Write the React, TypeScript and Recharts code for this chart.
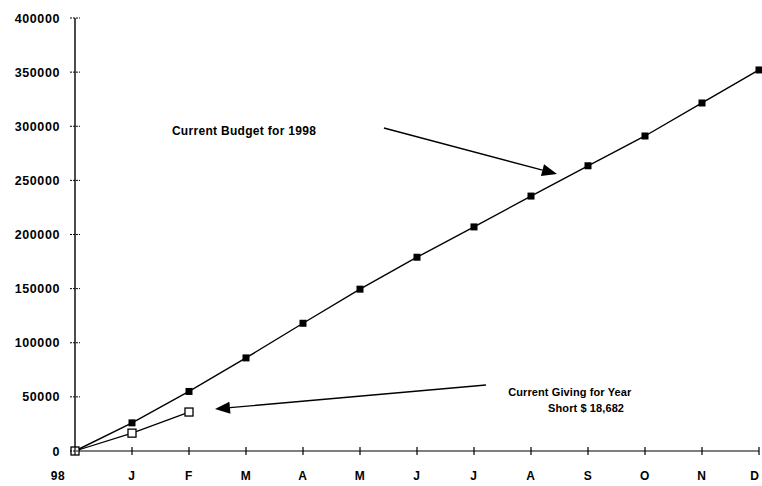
import React from 'react';
import { LineChart, Line, XAxis, YAxis, ReferenceLine, ReferenceDot } from 'recharts';

const months = ['98', 'J', 'F', 'M', 'A', 'M', 'J', 'J', 'A', 'S', 'O', 'N', 'D'];
const budget = [0, 26000, 55000, 86000, 118000, 149500, 179000, 207000, 235500, 263500, 291000, 321500, 352000];
const giving: (number | null)[] = [0, 16500, 36000, null, null, null, null, null, null, null, null, null, null];
const yTicks = [0, 50000, 100000, 150000, 200000, 250000, 300000, 350000, 400000];

const budgetLabel = 'Current Budget for 1998';
const givingLabel1 = 'Current Giving for Year';
const givingLabel2 = 'Short $ 18,682';

// annotation anchors in data space (x = month index, y = dollars)
const budgetArrow = [{ x: 5.42, y: 298400 }, { x: 8.456, y: 255900 }];
const givingArrow = [{ x: 7.21, y: 61000 }, { x: 2.456, y: 38800 }];
const budgetText = { x: 1.7, y: 291900 };
const givingText1 = { x: 7.6, y: 51000 };
const givingText2 = { x: 8.3, y: 36000 };

const data = months.map((m, i) => ({ idx: i, label: m, budget: budget[i], giving: giving[i] }));

const FONT = 'Liberation Sans, Arial, Helvetica, sans-serif';

const YTick = (props: any) => {
  const { x, y, payload } = props;
  const ax = x + 15;
  return (
    <g>
      <line x1={ax - 5} x2={ax + 5} y1={y} y2={y} stroke="#000" strokeWidth={1} strokeDasharray="2 1" />
      <text x={x} y={y} dy={4.5} textAnchor="end" fontFamily={FONT} fontSize={12.5} fontWeight="bold" fill="#000" letterSpacing={0.6}>
        {payload.value}
      </text>
    </g>
  );
};

const XTick = (props: any) => {
  const { x, y, payload } = props;
  const ay = y - 20;
  const i = payload.value;
  const shift = i === 0 ? -17 : i === months.length - 1 ? -4 : 0;
  return (
    <g>
      <line x1={x} x2={x} y1={ay - 4} y2={ay + 4} stroke="#000" strokeWidth={1.2} />
      <text x={x + shift} y={ay + 29} textAnchor="middle" fontFamily={FONT} fontSize={12} fontWeight="bold" fill="#000" letterSpacing={0.6}>
        {months[i]}
      </text>
    </g>
  );
};

const FilledSquare = (props: any) => {
  const { cx, cy, index } = props;
  if (index === 0 || cx == null || cy == null) return <g key={`b${index}`} />;
  return <rect key={`b${index}`} x={cx - 3.5} y={cy - 3.5} width={7} height={7} fill="#000" />;
};

const OpenSquare = (props: any) => {
  const { cx, cy, index, value } = props;
  if (value == null || cx == null || cy == null) return <g key={`g${index}`} />;
  return <rect key={`g${index}`} x={cx - 4} y={cy - 4} width={8} height={8} fill="#fff" stroke="#000" strokeWidth={1.3} />;
};

const Arrow = (props: any) => {
  const { x1, y1, x2, y2 } = props;
  const ang = Math.atan2(y2 - y1, x2 - x1);
  const len = 15;
  const half = 6;
  const bx = x2 - len * Math.cos(ang);
  const by = y2 - len * Math.sin(ang);
  const px = -Math.sin(ang) * half;
  const py = Math.cos(ang) * half;
  return (
    <g>
      <line x1={x1} y1={y1} x2={bx} y2={by} stroke="#000" strokeWidth={1.4} />
      <polygon points={`${x2},${y2} ${bx + px},${by + py} ${bx - px},${by - py}`} fill="#000" />
    </g>
  );
};

const makeText = (lines: string, size: number, spacing: number) => (props: any) => {
  const { cx, cy } = props;
  return (
    <text x={cx} y={cy} fontFamily={FONT} fontSize={size} fontWeight="bold" fill="#000" letterSpacing={spacing}>
      {lines}
    </text>
  );
};

export default function App() {
  return (
    <div style={{ position: 'absolute', left: 0, top: 0, width: 762, height: 486, background: '#fff' }}>
      <LineChart width={762} height={486} data={data} margin={{ top: 18, right: 3, bottom: 0, left: 0 }}>
        <XAxis
          dataKey="idx"
          type="number"
          domain={[0, 12]}
          ticks={months.map((_, i) => i)}
          interval={0}
          height={35}
          axisLine={{ stroke: '#000', strokeWidth: 1.2 }}
          tickLine={false}
          tickSize={0}
          tickMargin={20}
          tick={<XTick />}
        />
        <YAxis
          type="number"
          domain={[0, 400000]}
          ticks={yTicks}
          interval={0}
          width={75}
          axisLine={{ stroke: '#000', strokeWidth: 1.4 }}
          tickLine={false}
          tickSize={0}
          tickMargin={15}
          tick={<YTick />}
        />
        <Line dataKey="budget" stroke="#000" strokeWidth={1.4} dot={<FilledSquare />} activeDot={false} isAnimationActive={false} />
        <Line dataKey="giving" stroke="#000" strokeWidth={1.3} dot={<OpenSquare />} activeDot={false} connectNulls={false} isAnimationActive={false} />
        <ReferenceLine segment={budgetArrow} shape={<Arrow />} ifOverflow="visible" />
        <ReferenceLine segment={givingArrow} shape={<Arrow />} ifOverflow="visible" />
        <ReferenceDot x={budgetText.x} y={budgetText.y} r={0} shape={makeText(budgetLabel, 12, 0.3)} ifOverflow="visible" />
        <ReferenceDot x={givingText1.x} y={givingText1.y} r={0} shape={makeText(givingLabel1, 11, 0.1)} ifOverflow="visible" />
        <ReferenceDot x={givingText2.x} y={givingText2.y} r={0} shape={makeText(givingLabel2, 11, 0.1)} ifOverflow="visible" />
      </LineChart>
    </div>
  );
}
